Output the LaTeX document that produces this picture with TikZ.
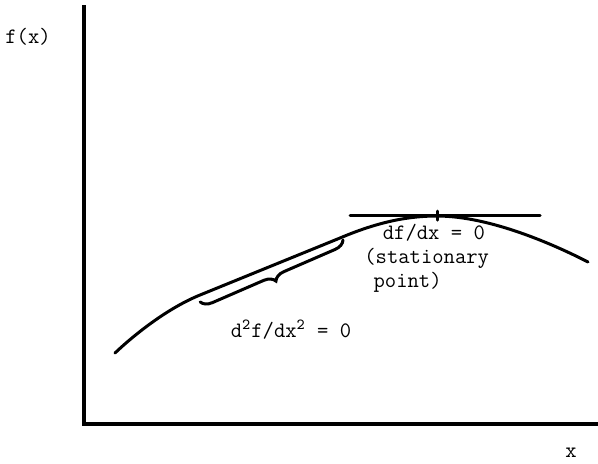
\documentclass[tikz,border=0pt]{standalone}
\usetikzlibrary{decorations.pathreplacing}

\begin{document}
\begin{tikzpicture}[x=0.5pt, y=-0.5pt,
  axis/.style={line width=1.8pt},
  curve/.style={line width=1.5pt, line cap=round},
  every node/.style={font=\fontsize{11}{12}\ttfamily, inner sep=0pt}]
\useasboundingbox (0,0) rectangle (598,463);
% axes
\coordinate (ytop) at (84,5);
\coordinate (o) at (84,424);
\coordinate (xend) at (598,424);
\draw[axis] (ytop) -- (o) -- (xend);
\node (fx) at (28,37) {f(x)};
\node (xl) at (571,453) {x};
% the function
\coordinate (c0) at (115,353);
\coordinate (c1) at (200,295);
\coordinate (c2) at (340,238);
\coordinate (top) at (437,216);
\coordinate (c3) at (588,262);
\draw[curve] (c0) .. controls (135,334) and (168,308) .. (c1) -- (c2)
  .. controls (380,221) and (410,216) .. (top)
  .. controls (490,216) and (555,245) .. (c3);
% tangent at the stationary point
\coordinate (t1) at (350,215);
\coordinate (t2) at (540,215);
\draw[curve] (t1) -- (t2);
\draw[curve] (437,211) -- (437,220);
\node[align=left, anchor=north west] (stat) at (364,224) {\hspace{0.84em}df/dx = 0\\(stationary\\\hspace{0.42em}point)};
% inflection: brace under the straight part
\coordinate (b1) at (343,240);
\coordinate (b2) at (200,302);
\draw[curve, decorate, decoration={brace, amplitude=5.5pt}] (b1) -- (b2);
\node (infl) at (291,330) {d\textsuperscript{2}f/dx\textsuperscript{2} = 0};
\end{tikzpicture}
\end{document}
